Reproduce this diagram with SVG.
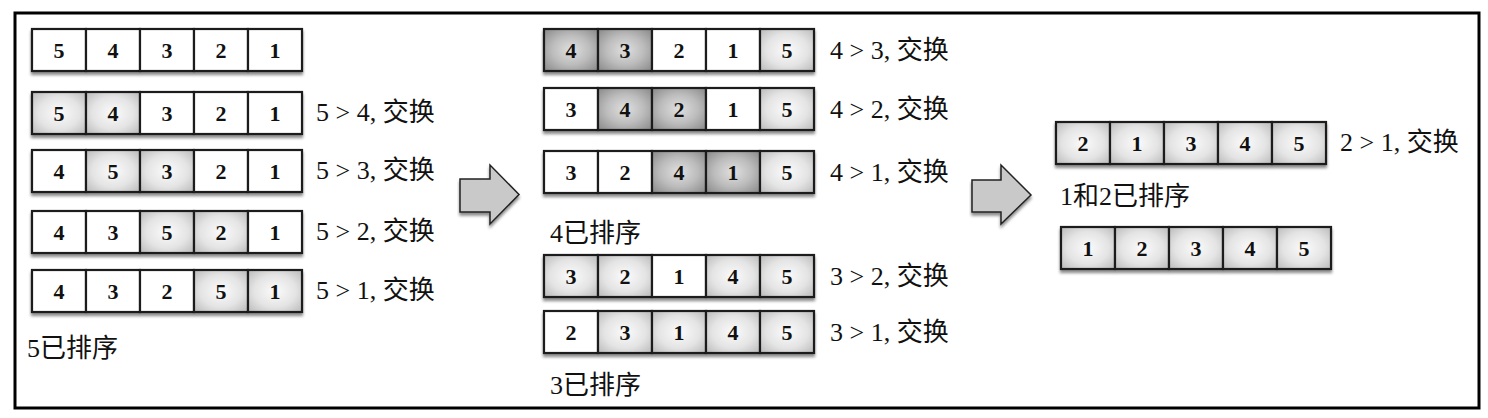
<svg xmlns="http://www.w3.org/2000/svg" width="1488" height="418" viewBox="0 0 1488 418">
<defs>
<radialGradient id="gl" cx="50%" cy="50%" r="70%">
<stop offset="0" stop-color="#fbfbfb"/>
<stop offset="0.55" stop-color="#e4e4e4"/>
<stop offset="1" stop-color="#bababa"/>
</radialGradient>
<radialGradient id="gd" cx="50%" cy="50%" r="70%">
<stop offset="0" stop-color="#e0e0e0"/>
<stop offset="0.5" stop-color="#bcbcbc"/>
<stop offset="1" stop-color="#888"/>
</radialGradient>
<filter id="sh" x="-5%" y="-20%" width="110%" height="150%">
<feDropShadow dx="0" dy="3" stdDeviation="1.8" flood-color="#000" flood-opacity="0.45"/>
</filter>
</defs>
<style>
.c{stroke:#1a1a1a;stroke-width:2.2}
.w{fill:#fff}
.l{fill:url(#gl)}
.d{fill:url(#gd)}
.n{font-family:"Liberation Serif",serif;font-weight:bold;font-size:22px;fill:#111;text-anchor:middle}
.t{font-family:"Liberation Serif","Noto Sans CJK SC",serif;font-size:26px;fill:#111}
.ar{fill:#c9c9c9;stroke:#222;stroke-width:1.5;filter:url(#sh)}
</style>
<rect x="15" y="13" width="1464" height="395" fill="#fff" stroke="#000" stroke-width="3"/>

<!-- Left column -->
<g id="L1" transform="translate(32,29)"><g filter="url(#sh)">
<rect class="c w" x="0" y="0" width="54" height="42"/><rect class="c w" x="54" y="0" width="54" height="42"/><rect class="c w" x="108" y="0" width="54" height="42"/><rect class="c w" x="162" y="0" width="54" height="42"/><rect class="c w" x="216" y="0" width="54" height="42"/></g>
<text class="n" x="27" y="29">5</text><text class="n" x="81" y="29">4</text><text class="n" x="135" y="29">3</text><text class="n" x="189" y="29">2</text><text class="n" x="243" y="29">1</text>
</g>
<g id="L2" transform="translate(32,92)"><g filter="url(#sh)">
<rect class="c l" x="0" y="0" width="54" height="42"/><rect class="c l" x="54" y="0" width="54" height="42"/><rect class="c w" x="108" y="0" width="54" height="42"/><rect class="c w" x="162" y="0" width="54" height="42"/><rect class="c w" x="216" y="0" width="54" height="42"/></g>
<text class="n" x="27" y="29">5</text><text class="n" x="81" y="29">4</text><text class="n" x="135" y="29">3</text><text class="n" x="189" y="29">2</text><text class="n" x="243" y="29">1</text>
<text class="t" x="284" y="29">5 &gt; 4, 交换</text>
</g>
<g id="L3" transform="translate(32,150)"><g filter="url(#sh)">
<rect class="c w" x="0" y="0" width="54" height="42"/><rect class="c l" x="54" y="0" width="54" height="42"/><rect class="c l" x="108" y="0" width="54" height="42"/><rect class="c w" x="162" y="0" width="54" height="42"/><rect class="c w" x="216" y="0" width="54" height="42"/></g>
<text class="n" x="27" y="29">4</text><text class="n" x="81" y="29">5</text><text class="n" x="135" y="29">3</text><text class="n" x="189" y="29">2</text><text class="n" x="243" y="29">1</text>
<text class="t" x="284" y="29">5 &gt; 3, 交换</text>
</g>
<g id="L4" transform="translate(32,211)"><g filter="url(#sh)">
<rect class="c w" x="0" y="0" width="54" height="42"/><rect class="c w" x="54" y="0" width="54" height="42"/><rect class="c l" x="108" y="0" width="54" height="42"/><rect class="c l" x="162" y="0" width="54" height="42"/><rect class="c w" x="216" y="0" width="54" height="42"/></g>
<text class="n" x="27" y="29">4</text><text class="n" x="81" y="29">3</text><text class="n" x="135" y="29">5</text><text class="n" x="189" y="29">2</text><text class="n" x="243" y="29">1</text>
<text class="t" x="284" y="29">5 &gt; 2, 交换</text>
</g>
<g id="L5" transform="translate(32,270)"><g filter="url(#sh)">
<rect class="c w" x="0" y="0" width="54" height="42"/><rect class="c w" x="54" y="0" width="54" height="42"/><rect class="c w" x="108" y="0" width="54" height="42"/><rect class="c l" x="162" y="0" width="54" height="42"/><rect class="c l" x="216" y="0" width="54" height="42"/></g>
<text class="n" x="27" y="29">4</text><text class="n" x="81" y="29">3</text><text class="n" x="135" y="29">2</text><text class="n" x="189" y="29">5</text><text class="n" x="243" y="29">1</text>
<text class="t" x="284" y="29">5 &gt; 1, 交换</text>
</g>
<g id="L-sorted"><text class="t" x="27" y="357">5已排序</text></g>

<!-- Middle column -->
<g id="M1" transform="translate(544,29)"><g filter="url(#sh)">
<rect class="c d" x="0" y="0" width="54" height="42"/><rect class="c d" x="54" y="0" width="54" height="42"/><rect class="c w" x="108" y="0" width="54" height="42"/><rect class="c w" x="162" y="0" width="54" height="42"/><rect class="c l" x="216" y="0" width="54" height="42"/></g>
<text class="n" x="27" y="29">4</text><text class="n" x="81" y="29">3</text><text class="n" x="135" y="29">2</text><text class="n" x="189" y="29">1</text><text class="n" x="243" y="29">5</text>
<text class="t" x="286" y="30">4 &gt; 3, 交换</text>
</g>
<g id="M2" transform="translate(544,88)"><g filter="url(#sh)">
<rect class="c w" x="0" y="0" width="54" height="42"/><rect class="c d" x="54" y="0" width="54" height="42"/><rect class="c d" x="108" y="0" width="54" height="42"/><rect class="c w" x="162" y="0" width="54" height="42"/><rect class="c l" x="216" y="0" width="54" height="42"/></g>
<text class="n" x="27" y="29">3</text><text class="n" x="81" y="29">4</text><text class="n" x="135" y="29">2</text><text class="n" x="189" y="29">1</text><text class="n" x="243" y="29">5</text>
<text class="t" x="286" y="30">4 &gt; 2, 交换</text>
</g>
<g id="M3" transform="translate(544,151)"><g filter="url(#sh)">
<rect class="c w" x="0" y="0" width="54" height="42"/><rect class="c w" x="54" y="0" width="54" height="42"/><rect class="c d" x="108" y="0" width="54" height="42"/><rect class="c d" x="162" y="0" width="54" height="42"/><rect class="c l" x="216" y="0" width="54" height="42"/></g>
<text class="n" x="27" y="29">3</text><text class="n" x="81" y="29">2</text><text class="n" x="135" y="29">4</text><text class="n" x="189" y="29">1</text><text class="n" x="243" y="29">5</text>
<text class="t" x="286" y="30">4 &gt; 1, 交换</text>
</g>
<g id="M-sorted4"><text class="t" x="550" y="242">4已排序</text></g>
<g id="M4" transform="translate(544,255)"><g filter="url(#sh)">
<rect class="c l" x="0" y="0" width="54" height="42"/><rect class="c l" x="54" y="0" width="54" height="42"/><rect class="c w" x="108" y="0" width="54" height="42"/><rect class="c l" x="162" y="0" width="54" height="42"/><rect class="c l" x="216" y="0" width="54" height="42"/></g>
<text class="n" x="27" y="29">3</text><text class="n" x="81" y="29">2</text><text class="n" x="135" y="29">1</text><text class="n" x="189" y="29">4</text><text class="n" x="243" y="29">5</text>
<text class="t" x="286" y="30">3 &gt; 2, 交换</text>
</g>
<g id="M5" transform="translate(544,311)"><g filter="url(#sh)">
<rect class="c w" x="0" y="0" width="54" height="42"/><rect class="c l" x="54" y="0" width="54" height="42"/><rect class="c l" x="108" y="0" width="54" height="42"/><rect class="c l" x="162" y="0" width="54" height="42"/><rect class="c l" x="216" y="0" width="54" height="42"/></g>
<text class="n" x="27" y="29">2</text><text class="n" x="81" y="29">3</text><text class="n" x="135" y="29">1</text><text class="n" x="189" y="29">4</text><text class="n" x="243" y="29">5</text>
<text class="t" x="286" y="30">3 &gt; 1, 交换</text>
</g>
<g id="M-sorted3"><text class="t" x="550" y="394">3已排序</text></g>

<!-- Right column -->
<g id="R1" transform="translate(1056,122)"><g filter="url(#sh)">
<rect class="c l" x="0" y="0" width="54" height="42"/><rect class="c l" x="54" y="0" width="54" height="42"/><rect class="c l" x="108" y="0" width="54" height="42"/><rect class="c l" x="162" y="0" width="54" height="42"/><rect class="c l" x="216" y="0" width="54" height="42"/></g>
<text class="n" x="27" y="29">2</text><text class="n" x="81" y="29">1</text><text class="n" x="135" y="29">3</text><text class="n" x="189" y="29">4</text><text class="n" x="243" y="29">5</text>
<text class="t" x="284" y="29">2 &gt; 1, 交换</text>
</g>
<g id="R-sorted"><text class="t" x="1060" y="205">1和2已排序</text></g>
<g id="R2" transform="translate(1061,227)"><g filter="url(#sh)">
<rect class="c l" x="0" y="0" width="54" height="42"/><rect class="c l" x="54" y="0" width="54" height="42"/><rect class="c l" x="108" y="0" width="54" height="42"/><rect class="c l" x="162" y="0" width="54" height="42"/><rect class="c l" x="216" y="0" width="54" height="42"/></g>
<text class="n" x="27" y="29">1</text><text class="n" x="81" y="29">2</text><text class="n" x="135" y="29">3</text><text class="n" x="189" y="29">4</text><text class="n" x="243" y="29">5</text>
</g>

<!-- Connectors (block arrows) -->
<g id="connectors">
<polygon class="ar" points="460,179 490,179 490,165 519,194.5 490,224 490,212 460,212"/>
<polygon class="ar" points="972,180 1001,180 1001,165 1031,195 1001,224 1001,212 972,212"/>
</g>
</svg>
